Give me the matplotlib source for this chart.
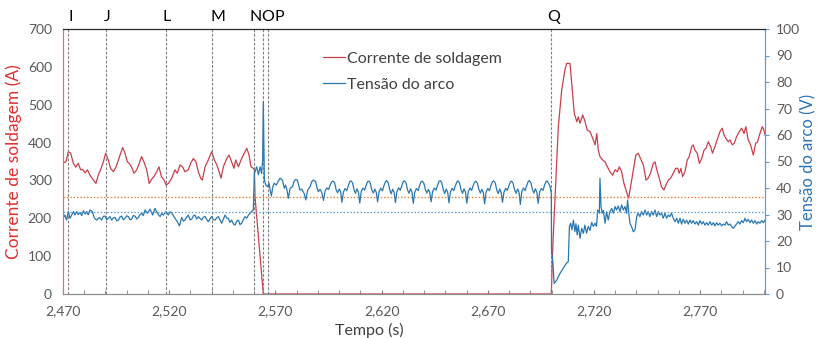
import matplotlib.pyplot as plt
from matplotlib.ticker import MultipleLocator, FuncFormatter
from matplotlib.transforms import blended_transform_factory

plt.rcParams['font.family'] = ['Lato', 'DejaVu Sans']

# marcos (linhas verticais tracejadas) e posicao das letras no topo
marcos = ['I', 'J', 'L', 'M', 'N', 'O', 'P', 'Q']
marcos_t = [2472.5, 2490.3, 2518.4, 2540.2, 2560.1, 2564.3, 2566.4, 2699.9]
marcos_txt_t = [2473.6, 2490.6, 2519.0, 2543.0, 2560.9, 2566.3, 2571.7, 2701.0]

media_corrente = 256   # A (linha pontilhada laranja)
media_tensao = 31      # V (linha pontilhada azul)

# corrente de soldagem (A)
corr_t = [2470.0, 2471.4, 2472.5, 2473.6, 2474.9, 2476.0, 2477.2, 2478.3, 2479.3, 2480.4,
          2481.5, 2482.7, 2484.3, 2485.5, 2486.6, 2487.7, 2489.0, 2490.1, 2491.3, 2492.4,
          2493.7, 2495.0, 2496.1, 2497.2, 2498.1, 2499.2, 2500.3, 2501.2, 2502.3, 2503.4,
          2504.7, 2505.9, 2507.0, 2508.1, 2509.4, 2510.6, 2511.7, 2512.8, 2514.1, 2515.2,
          2516.3, 2517.6, 2518.5, 2519.6, 2521.2, 2522.7, 2523.8, 2525.1, 2526.3, 2527.4,
          2529.0, 2530.1, 2531.4, 2532.6, 2533.7, 2534.8, 2535.6, 2536.9, 2538.4, 2540.0,
          2541.3, 2542.4, 2543.5, 2544.4, 2545.5, 2547.1, 2548.2, 2549.4, 2550.5, 2551.3,
          2552.6, 2553.8, 2554.9, 2556.5, 2557.6, 2558.5, 2559.6, 2560.1, 2560.4, 2562.4,
          2564.3, 2699.9, 2700.4, 2700.8, 2702.1, 2703.2, 2704.8, 2706.3, 2707.1, 2708.7,
          2709.5, 2710.7, 2711.9, 2712.6, 2713.4, 2714.7, 2715.8, 2716.8, 2718.1, 2719.4,
          2720.5, 2721.3, 2722.0, 2722.8, 2724.1, 2725.2, 2726.3, 2727.5, 2728.8, 2729.9,
          2731.0, 2731.9, 2733.0, 2734.1, 2735.3, 2736.3, 2737.2, 2738.5, 2739.7, 2740.8,
          2741.9, 2743.2, 2744.5, 2745.5, 2746.6, 2747.9, 2748.7, 2749.8, 2750.7, 2751.8,
          2752.9, 2753.9, 2755.0, 2756.1, 2757.3, 2758.4, 2759.4, 2760.1, 2760.9, 2761.7,
          2762.8, 2763.9, 2764.8, 2766.0, 2766.7, 2767.5, 2768.6, 2769.6, 2770.7, 2771.8,
          2772.7, 2773.8, 2774.9, 2775.8, 2776.9, 2778.0, 2779.3, 2780.4, 2781.2, 2782.1,
          2783.2, 2784.0, 2785.1, 2786.0, 2787.1, 2788.4, 2789.5, 2790.6, 2791.5, 2792.6,
          2793.7, 2795.0, 2796.1, 2797.0, 2798.1, 2799.2, 2800.0, 2800.5]
corr_a = [347, 349, 376, 372, 345, 335, 345, 328, 329, 320,
          328, 314, 301, 292, 314, 328, 349, 372, 354, 332,
          323, 336, 354, 372, 387, 372, 349, 345, 335, 319,
          328, 345, 363, 349, 328, 292, 303, 310, 323, 336,
          310, 301, 288, 292, 306, 328, 319, 341, 336, 323,
          328, 345, 358, 349, 323, 306, 301, 336, 354, 376,
          354, 341, 323, 306, 336, 358, 367, 349, 332, 354,
          336, 354, 367, 385, 367, 336, 332, 328, 257, 125,
          0, 0, 95, 151, 310, 442, 539, 592, 609, 609,
          557, 477, 455, 468, 451, 473, 455, 433, 429, 411,
          394, 424, 380, 363, 354, 349, 336, 323, 314, 328,
          323, 336, 323, 292, 270, 253, 283, 328, 367, 372,
          358, 341, 301, 306, 319, 345, 349, 323, 306, 283,
          275, 288, 301, 306, 319, 332, 332, 319, 332, 310,
          323, 354, 363, 389, 394, 380, 372, 345, 358, 380,
          385, 402, 389, 372, 389, 407, 429, 438, 420, 411,
          402, 407, 394, 398, 415, 429, 438, 424, 442, 407,
          394, 367, 398, 402, 424, 442, 433, 420]

# tensao do arco (V)
tens_t = [2470.0, 2470.9, 2471.7, 2472.5, 2473.3, 2474.1, 2474.9, 2475.6, 2476.4, 2477.2,
          2478.0, 2478.8, 2479.6, 2480.4, 2481.1, 2481.9, 2482.7, 2483.8, 2484.8, 2485.9,
          2487.1, 2488.2, 2489.0, 2489.8, 2490.6, 2491.3, 2492.1, 2492.9, 2493.7, 2494.5,
          2495.3, 2496.1, 2496.8, 2497.6, 2498.4, 2499.2, 2500.0, 2500.8, 2501.5, 2502.3,
          2503.1, 2503.9, 2504.7, 2505.5, 2506.3, 2507.0, 2507.8, 2508.6, 2509.7, 2511.0,
          2512.2, 2513.3, 2514.4, 2515.7, 2516.5, 2517.2, 2518.5, 2519.6, 2520.4, 2521.2,
          2521.9, 2522.7, 2523.8, 2524.8, 2525.9, 2526.7, 2527.4, 2528.2, 2529.0, 2529.8,
          2530.6, 2531.4, 2532.1, 2532.9, 2533.7, 2534.5, 2535.3, 2536.1, 2536.9, 2537.6,
          2538.4, 2539.2, 2540.0, 2540.8, 2541.6, 2542.4, 2543.1, 2543.9, 2544.7, 2545.5,
          2546.3, 2547.1, 2547.8, 2548.6, 2549.4, 2550.2, 2551.0, 2551.8, 2552.6, 2553.3,
          2554.1, 2554.9, 2555.7, 2556.5, 2557.3, 2558.0, 2558.8, 2559.6, 2560.1, 2561.2,
          2562.0, 2562.8, 2563.5, 2564.0, 2564.3, 2564.8, 2565.5, 2566.3, 2567.0, 2567.6,
          2568.1, 2568.8, 2569.4, 2570.4, 2571.3, 2572.2, 2573.3, 2574.2, 2574.8, 2575.5,
          2576.1, 2576.9, 2578.0, 2578.8, 2579.5, 2580.3, 2581.0, 2581.5, 2582.4, 2583.5,
          2584.3, 2585.2, 2586.3, 2587.2, 2587.9, 2589.0, 2589.6, 2590.2, 2591.0, 2591.8,
          2592.6, 2593.4, 2594.2, 2595.0, 2595.8, 2596.5, 2597.2, 2597.9, 2598.6, 2599.3,
          2600.0, 2600.7, 2601.3, 2602.0, 2602.8, 2603.6, 2604.3, 2605.0, 2605.6, 2606.3,
          2607.0, 2607.7, 2608.4, 2609.1, 2609.7, 2610.4, 2611.2, 2612.0, 2612.7, 2613.4,
          2614.0, 2614.7, 2615.4, 2616.1, 2616.8, 2617.5, 2618.1, 2618.8, 2619.6, 2620.4,
          2621.1, 2621.8, 2622.4, 2623.1, 2623.8, 2624.5, 2625.2, 2625.9, 2626.5, 2627.2,
          2628.0, 2628.8, 2629.5, 2630.2, 2630.8, 2631.5, 2632.2, 2632.9, 2633.6, 2634.3,
          2634.9, 2635.6, 2636.4, 2637.2, 2637.9, 2638.6, 2639.2, 2639.9, 2640.6, 2641.3,
          2642.0, 2642.7, 2643.3, 2644.0, 2644.8, 2645.6, 2646.3, 2647.0, 2647.6, 2648.3,
          2649.0, 2649.7, 2650.4, 2651.1, 2651.7, 2652.4, 2653.2, 2654.0, 2654.7, 2655.4,
          2656.0, 2656.7, 2657.4, 2658.1, 2658.8, 2659.5, 2660.1, 2660.8, 2661.6, 2662.4,
          2663.1, 2663.8, 2664.4, 2665.1, 2665.8, 2666.5, 2667.2, 2667.9, 2668.5, 2669.2,
          2670.0, 2670.8, 2671.5, 2672.2, 2672.8, 2673.5, 2674.2, 2674.9, 2675.6, 2676.3,
          2676.9, 2677.6, 2678.4, 2679.2, 2679.9, 2680.6, 2681.2, 2681.9, 2682.6, 2683.3,
          2684.0, 2684.7, 2685.3, 2686.0, 2686.8, 2687.6, 2688.3, 2689.0, 2689.6, 2690.3,
          2691.0, 2691.7, 2692.4, 2693.1, 2693.7, 2694.4, 2695.2, 2696.0, 2696.7, 2697.4,
          2698.0, 2698.7, 2699.3, 2699.9, 2700.0, 2700.3, 2700.7, 2701.2, 2702.5, 2704.0,
          2705.5, 2707.0, 2707.9, 2708.4, 2709.0, 2709.6, 2710.3, 2711.0, 2711.5, 2712.1,
          2712.6, 2713.4, 2714.2, 2715.0, 2715.7, 2716.5, 2717.3, 2718.1, 2718.9, 2719.7,
          2720.5, 2721.2, 2721.7, 2722.5, 2722.8, 2723.3, 2723.9, 2724.4, 2725.2, 2725.9,
          2726.7, 2727.5, 2728.3, 2729.1, 2729.9, 2730.6, 2731.4, 2732.2, 2733.0, 2733.8,
          2734.6, 2735.3, 2735.8, 2736.3, 2736.9, 2737.7, 2738.5, 2739.3, 2740.1, 2740.8,
          2741.6, 2742.4, 2743.2, 2744.0, 2744.8, 2745.5, 2746.3, 2747.1, 2747.9, 2748.7,
          2749.5, 2750.3, 2751.0, 2751.8, 2752.6, 2753.4, 2754.2, 2755.0, 2755.7, 2756.5,
          2757.3, 2758.1, 2758.9, 2759.7, 2760.5, 2761.2, 2762.0, 2762.8, 2763.6, 2764.4,
          2765.2, 2765.9, 2766.7, 2767.5, 2768.3, 2769.1, 2769.9, 2770.7, 2771.4, 2772.2,
          2773.0, 2773.8, 2774.6, 2775.4, 2776.2, 2776.9, 2777.7, 2778.5, 2779.3, 2780.1,
          2780.9, 2781.6, 2782.4, 2783.2, 2784.0, 2784.8, 2785.6, 2786.4, 2787.1, 2787.9,
          2788.7, 2789.5, 2790.3, 2791.1, 2791.8, 2792.6, 2793.4, 2794.2, 2795.0, 2795.8,
          2796.6, 2797.3, 2798.1, 2798.9, 2799.7, 2800.5]
tens_v = [28.6, 29.8, 27.9, 31.1, 28.6, 29.8, 31.1, 29.8, 31.1, 30.0,
          30.7, 29.6, 31.4, 30.2, 31.1, 29.9, 31.7, 31.1, 28.6, 27.9,
          28.9, 27.9, 29.3, 29.4, 28.0, 28.6, 29.2, 27.9, 28.7, 28.9,
          27.6, 27.9, 29.0, 29.4, 28.0, 28.6, 29.5, 29.2, 28.0, 28.2,
          29.6, 29.4, 28.3, 28.9, 30.0, 30.5, 29.6, 31.7, 30.5, 32.0,
          29.8, 32.3, 30.5, 29.2, 30.4, 29.8, 31.1, 29.8, 31.0, 30.7,
          29.6, 28.6, 27.3, 25.7, 28.9, 27.5, 27.9, 29.0, 29.8, 28.0,
          28.2, 29.5, 29.8, 28.3, 29.2, 28.5, 27.9, 29.0, 29.2, 28.2,
          27.3, 28.4, 29.2, 28.0, 27.9, 28.8, 29.2, 28.0, 26.7, 28.2,
          29.8, 28.6, 28.6, 27.0, 27.9, 26.5, 26.0, 27.5, 27.9, 26.2,
          26.7, 28.0, 29.2, 28.6, 29.8, 30.4, 31.1, 31.7, 45.5, 48.0,
          45.0, 48.0, 45.5, 50.6, 72.6, 43.0, 41.1, 40.5, 41.8, 39.0,
          37.0, 40.5, 41.8, 41.1, 42.5, 43.7, 43.0, 39.9, 41.1, 39.0,
          36.1, 39.9, 40.5, 42.5, 43.2, 43.0, 41.0, 39.2, 39.6, 38.0,
          35.5, 39.2, 40.5, 42.5, 43.0, 42.4, 40.0, 38.6, 39.5, 38.4,
          35.3, 38.8, 40.0, 39.4, 41.2, 42.3, 42.6, 42.0, 39.3, 38.2,
          39.6, 38.6, 34.6, 38.4, 39.8, 39.0, 40.8, 42.4, 42.7, 42.0,
          39.4, 38.0, 39.7, 38.5, 34.3, 38.6, 40.0, 39.2, 41.0, 42.4,
          42.6, 41.8, 39.2, 38.1, 39.6, 38.3, 34.8, 38.5, 39.9, 38.9,
          40.9, 42.3, 42.8, 42.0, 39.5, 37.8, 39.5, 38.4, 34.5, 38.6,
          40.1, 39.1, 40.8, 42.5, 42.7, 41.9, 39.3, 38.0, 39.7, 38.5,
          34.2, 38.4, 39.8, 39.0, 41.0, 42.4, 42.6, 41.8, 39.4, 38.1,
          39.5, 38.3, 34.8, 38.6, 40.0, 39.2, 40.9, 42.5, 42.8, 42.0,
          39.5, 37.9, 39.6, 38.4, 34.4, 38.5, 39.9, 39.0, 40.8, 42.3,
          42.7, 41.9, 39.3, 38.0, 39.7, 38.4, 34.3, 38.6, 40.0, 39.1,
          40.9, 42.2, 42.6, 41.8, 39.4, 38.1, 39.5, 38.2, 34.0, 38.5,
          39.8, 39.0, 41.0, 42.4, 42.7, 41.9, 39.3, 37.9, 39.6, 38.3,
          34.6, 38.4, 39.9, 39.1, 40.8, 42.3, 42.6, 41.8, 39.4, 38.0,
          39.6, 38.4, 33.8, 38.6, 40.0, 39.0, 40.9, 42.4, 42.8, 41.9,
          39.5, 38.1, 39.7, 38.3, 34.2, 38.5, 39.8, 39.1, 41.0, 42.4,
          42.6, 41.6, 40.5, 38.0, 16.6, 14.1, 11.6, 4.0, 5.3, 7.8,
          9.7, 11.6, 12.2, 25.4, 26.7, 24.2, 27.9, 23.5, 26.5, 22.3,
          26.0, 21.0, 24.8, 22.9, 26.0, 23.0, 25.5, 24.0, 27.0, 25.5,
          26.7, 25.5, 31.7, 30.5, 43.7, 33.0, 30.5, 31.5, 26.7, 31.0,
          27.9, 31.1, 32.3, 30.5, 33.0, 31.7, 33.2, 31.1, 33.6, 31.7,
          33.0, 30.5, 35.5, 31.1, 26.7, 25.4, 23.5, 24.2, 29.2, 30.5,
          29.2, 31.1, 29.8, 31.7, 29.8, 31.1, 29.2, 31.1, 29.8, 31.7,
          29.2, 31.1, 29.8, 30.5, 28.6, 30.5, 28.6, 29.8, 29.2, 30.5,
          28.6, 27.3, 28.6, 26.7, 28.6, 26.4, 28.2, 26.7, 27.9, 26.4,
          27.9, 26.7, 27.7, 26.4, 27.3, 26.0, 27.7, 26.4, 27.3, 26.0,
          26.9, 26.0, 27.3, 26.0, 26.9, 25.7, 26.9, 26.0, 26.7, 25.7,
          26.4, 26.0, 27.3, 26.0, 26.4, 25.4, 24.8, 25.7, 26.4, 27.3,
          26.4, 27.7, 26.9, 28.6, 27.3, 28.2, 26.9, 27.9, 26.7, 27.7,
          26.4, 27.3, 26.7, 27.7, 26.9, 27.9]

vermelho = '#C8404A'
azul = '#2A78B0'
cinza = '#595959'

fig = plt.figure(figsize=(8.19, 3.38), dpi=100)
ax1 = fig.add_axes([63 / 819, 44 / 338, 702 / 819, 265 / 338])
ax2 = ax1.twinx()

l1, = ax1.plot(corr_t, corr_a, color=vermelho, lw=0.9, label='Corrente de soldagem')
l2, = ax2.plot(tens_t, tens_v, color=azul, lw=0.9, label='Tensão do arco')

ax1.axhline(media_corrente, color='#ED7D31', ls=(0, (1.2, 1.5)), lw=0.9)
ax2.axhline(media_tensao, color='#5B9BD5', ls=(0, (1.2, 1.5)), lw=0.9)

tr = blended_transform_factory(ax1.transData, ax1.transAxes)
for nome, t, tt in zip(marcos, marcos_t, marcos_txt_t):
    ax1.axvline(t, color='#808080', ls=(0, (2.5, 1.5)), lw=0.8)
    ax1.text(tt, 1.045, nome, transform=tr, ha='center', va='center', fontsize=11.5, color='black')

ax1.set_xlim(2470, 2800.5)
ax1.set_ylim(0, 700)
ax2.set_ylim(0, 100)

# rotulos a cada 50 s a partir de 2470, marcas a cada 10 s
ax1.xaxis.set_major_locator(MultipleLocator(50, offset=20))
ax1.xaxis.set_minor_locator(MultipleLocator(10))
ax1.xaxis.set_major_formatter(FuncFormatter(lambda x, pos: f'{x:,.0f}'))
ax1.yaxis.set_major_locator(MultipleLocator(100))
ax2.yaxis.set_major_locator(MultipleLocator(10))

ax1.tick_params(axis='x', which='both', direction='in', length=3, color='#808080',
                labelcolor=cinza, labelsize=10, pad=8)
ax1.tick_params(axis='y', length=0, labelcolor=cinza, labelsize=10, pad=8)
ax2.tick_params(axis='y', direction='out', length=3, color='#5B9BD5', labelcolor=cinza,
                labelsize=10, pad=5)

for ax in (ax1, ax2):
    ax.spines['top'].set_color('#262626')
    ax.spines['bottom'].set_color('#8C8C8C')
    ax.spines['left'].set_color('#E07070')
    ax.spines['right'].set_color('#5B9BD5')

ax1.set_xlabel('Tempo (s)', fontsize=11.5, color='#404040', labelpad=1)
ax1.xaxis.set_label_coords(0.437, -0.11)
ax1.set_ylabel('Corrente de soldagem (A)', fontsize=12.5, color='#E0302F', labelpad=4)
ax2.set_ylabel('Tensão do arco (V)', fontsize=12, color='#2E75B6')
ax2.yaxis.set_label_coords(1.05, 0.5)

ax2.legend(handles=[l1, l2], loc='upper left', bbox_to_anchor=(0.35, 0.97), frameon=False,
           fontsize=11.5, handlelength=1.4, handletextpad=0.1, labelspacing=0.75,
           labelcolor='#404040')

fig.savefig('out.png', dpi=100)
